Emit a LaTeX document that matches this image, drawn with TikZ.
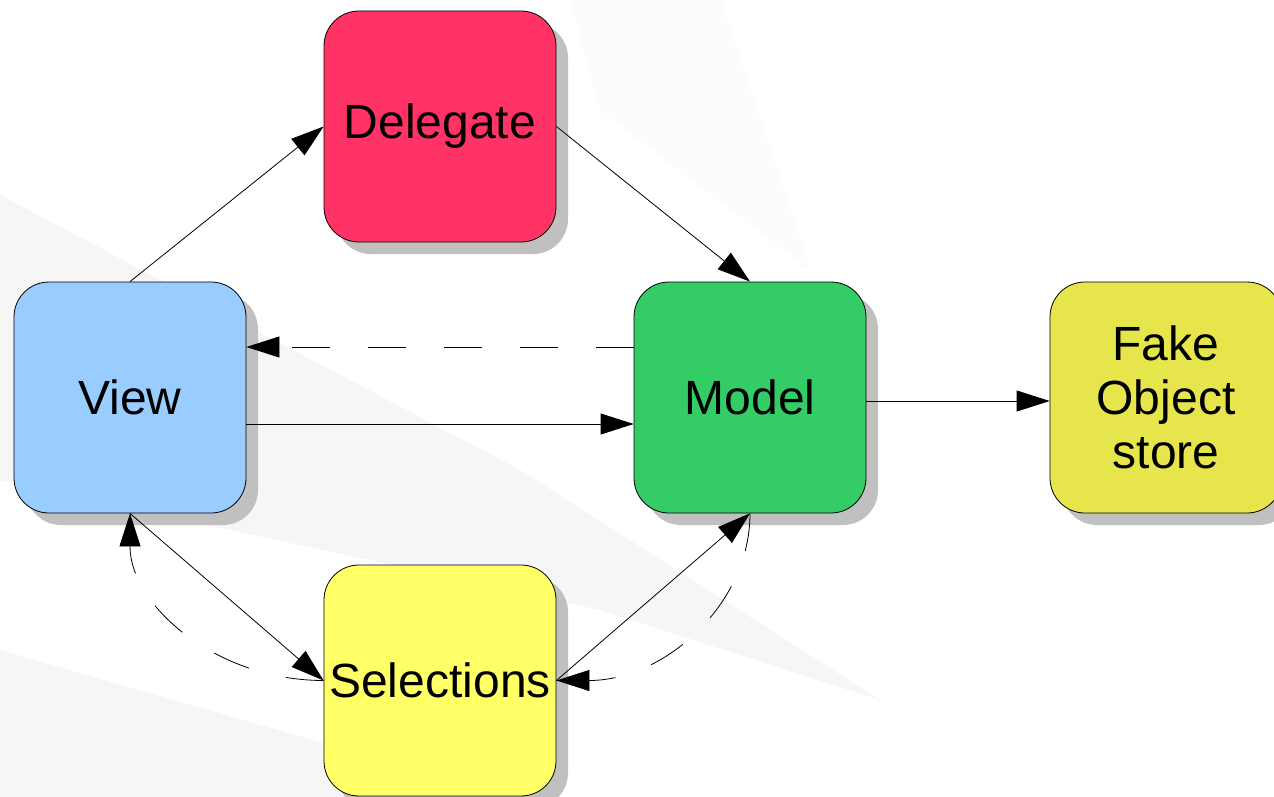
\documentclass[tikz,border=0pt]{standalone}
\usepackage{fontspec}
\setmainfont{Liberation Sans}
\usetikzlibrary{arrows.meta,shadows}
\definecolor{delc}{HTML}{FF3366}
\definecolor{viewc}{HTML}{99CCFF}
\definecolor{modelc}{HTML}{33CC66}
\definecolor{fakec}{HTML}{E6E64C}
\definecolor{selc}{HTML}{FFFF66}
\definecolor{shadowc}{HTML}{C0C0C0}
\definecolor{bgband}{HTML}{F6F6F6}
\definecolor{bgfaint}{HTML}{FCFCFC}
\begin{document}
\begin{tikzpicture}[x=1pt,y=-1pt,
  box/.style={rectangle, rounded corners=35pt, minimum width=232pt, minimum height=231pt,
    inner sep=0pt, draw=black, line width=0.8pt, font=\fontsize{48}{54}\selectfont, align=center,
    drop shadow={shadow xshift=12pt, shadow yshift=-12pt, fill=shadowc, opacity=1}},
  conn/.style={draw=black, line width=0.8pt, -{Triangle[length=33pt,width=21pt]}},
  dashconn/.style={conn, dash pattern=on 38pt off 38pt}]
\useasboundingbox (0,0) rectangle (1274,797);
\clip (0,0) rectangle (1274,797);
\fill[white] (0,0) rectangle (1274,797);
% faint background sweeps
\fill[bgband] (0,195) -- (520,470) -- (880,700) -- (600,610) -- (0,480) -- cycle;
\fill[bgband] (0,650) -- (330,745) -- (560,797) -- (0,797) -- cycle;
\fill[bgfaint] (570,0) -- (720,0) -- (810,270) -- (600,110) -- cycle;
% boxes
\node[box, fill=delc]   (Delegate)   at (440,126.5) {Delegate};
\node[box, fill=viewc]  (View)       at (130,397.5) {View};
\node[box, fill=modelc] (Model)      at (750,397.5) {Model};
\node[box, fill=fakec]  (Fake)       at (1166,397.5) {Fake\\Object\\store};
\node[box, fill=selc]   (Selections) at (440,680.5) {Selections};
% connectors
\draw[conn] (View.north) -- (Delegate.west);
\draw[conn] (Delegate.east) -- (Model.north);
\draw[dashconn] ([yshift=50.5pt]Model.west) -- ([yshift=50.5pt]View.east);
\draw[conn] ([yshift=-26.5pt]View.east) -- ([yshift=-26.5pt]Model.west);
\draw[conn] ([yshift=-3.5pt]Model.east) -- ([yshift=-3.5pt]Fake.west);
\draw[conn] (View.south) -- (Selections.west);
\draw[conn] (Selections.east) -- (Model.south);
\draw[dashconn] (Selections.west) .. controls +(-107,0) and +(0,92) .. (View.south);
\draw[dashconn] (Model.south) .. controls +(0,92) and +(107,0) .. (Selections.east);
\end{tikzpicture}
\end{document}
